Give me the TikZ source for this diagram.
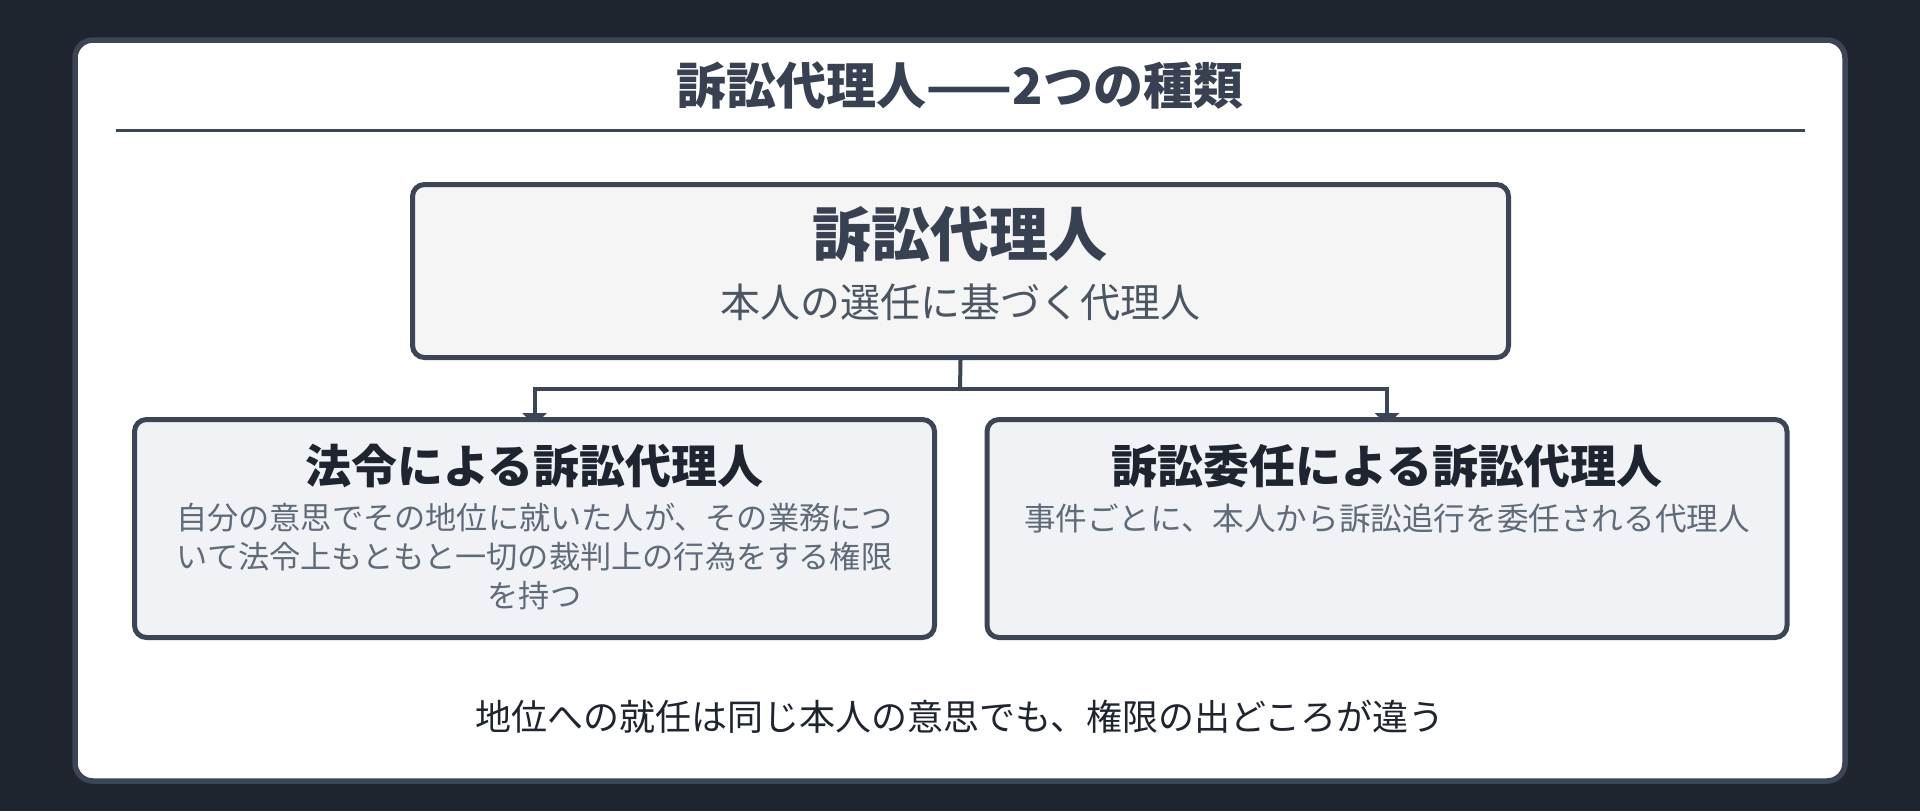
\documentclass[tikz,border=0pt]{standalone}
\usepackage{fontspec}
\setmainfont{Noto Sans CJK JP}
\usetikzlibrary{arrows.meta}
\pgfdeclarelayer{bglayer}
\pgfdeclarelayer{midlayer}
\pgfsetlayers{bglayer,midlayer,main}
\definecolor{bgc}{HTML}{1E252F}
\definecolor{edge}{HTML}{3B4556}
\definecolor{titlec}{HTML}{374151}
\definecolor{darkc}{HTML}{1F2530}
\definecolor{subc}{HTML}{4B5563}
\definecolor{bodyc}{HTML}{5F6B7A}
\definecolor{topfill}{HTML}{F5F5F5}
\definecolor{boxfill}{HTML}{F0F2F5}
\tikzset{
  card/.style={draw=edge, fill=white, line width=2.75pt, rounded corners=9pt, inner sep=0pt},
  box/.style={draw=edge, line width=2.5pt, rounded corners=6pt, inner sep=0pt},
  conn/.style={draw=edge, line width=2pt},
  tip/.style={-{Triangle[width=12pt,length=6pt]}, shorten >=-4pt},
  txt/.style={inner sep=0pt, align=center}
}
\begin{document}
\begin{tikzpicture}[x=0.5pt, y=-0.5pt]
\useasboundingbox (0,0) rectangle (1920,811);
\begin{pgfonlayer}{bglayer}
\fill[bgc] (0,0) rectangle (1920,811);
\node[card, minimum width=885pt, minimum height=370.5pt] (cardbox) at (960,410.5) {};
\end{pgfonlayer}
\node[txt, text=titlec, font=\fontsize{25}{30}\selectfont\bfseries] (title) at (960,86) {訴訟代理人——2つの種類};
\coordinate (ruleL) at (116,130);
\coordinate (ruleR) at (1805,130);
\draw[edge, line width=1.5pt] (ruleL) -- (ruleR);
\node[box, fill=topfill, minimum width=548pt, minimum height=86.5pt] (top) at (960.5,271) {};
\node[txt, text=titlec, font=\fontsize{29.5}{34}\selectfont\bfseries] (toptitle) at (960,234) {訴訟代理人};
\node[txt, text=subc, font=\fontsize{20}{24}\selectfont] (topsub) at (960,302) {本人の選任に基づく代理人};
\node[box, fill=boxfill, minimum width=400pt, minimum height=109pt] (left) at (534.5,528.5) {};
\node[box, fill=boxfill, minimum width=400pt, minimum height=109pt] (right) at (1387,528.5) {};
\coordinate (junc) at (960,389);
\begin{pgfonlayer}{midlayer}
\draw[conn] (top.south) -- (junc);
\draw[conn, tip] (junc) -| (left.north);
\draw[conn, tip] (junc) -| (right.north);
\end{pgfonlayer}
\node[txt, text=darkc, font=\fontsize{23}{28}\selectfont\bfseries] (lefttitle) at (534.5,466) {法令による訴訟代理人};
\node[txt, text=bodyc, font=\fontsize{15.6}{19.5}\selectfont] (leftbody) at (534.5,557) {自分の意思でその地位に就いた人が、その業務につ\\いて法令上もともと一切の裁判上の行為をする権限\\を持つ};
\node[txt, text=darkc, font=\fontsize{23}{28}\selectfont\bfseries] (righttitle) at (1387,466) {訴訟委任による訴訟代理人};
\node[txt, text=bodyc, font=\fontsize{15.8}{19.5}\selectfont] (rightbody) at (1387,518) {事件ごとに、本人から訴訟追行を委任される代理人};
\node[txt, text=darkc, font=\fontsize{18}{22}\selectfont] (footer) at (960,717) {地位への就任は同じ本人の意思でも、権限の出どころが違う};
\end{tikzpicture}
\end{document}
